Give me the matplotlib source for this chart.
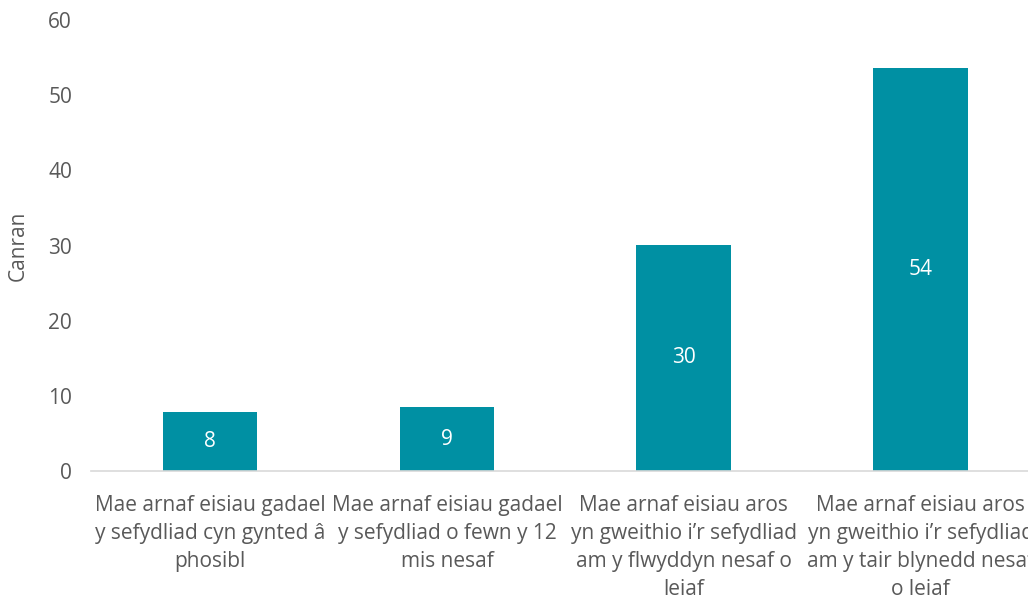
import matplotlib.pyplot as plt

plt.rcParams['font.family'] = ['Open Sans', 'DejaVu Sans']

categories = [
    "Mae arnaf eisiau gadael\ny sefydliad cyn gynted â\nphosibl",
    "Mae arnaf eisiau gadael\ny sefydliad o fewn y 12\nmis nesaf",
    "Mae arnaf eisiau aros\nyn gweithio i’r sefydliad\nam y flwyddyn nesaf o\nleiaf",
    "Mae arnaf eisiau aros\nyn gweithio i’r sefydliad\nam y tair blynedd nesaf\no leiaf",
]
values = [7.8, 8.5, 30.1, 53.6]
value_labels = ["8", "9", "30", "54"]
yticks = [0, 10, 20, 30, 40, 50, 60]

bar_color = '#0090A3'
text_color = '#595959'
fs = 15

fig = plt.figure(figsize=(10.28, 6.01), dpi=100)
ax = fig.add_axes([0.089, 0.2163, 0.922, 0.7504])

x = range(len(categories))
bars = ax.bar(x, values, width=0.40, color=bar_color)

for b, lab in zip(bars, value_labels):
    ax.text(b.get_x() + b.get_width() / 2, b.get_height() / 2, lab,
            ha='center', va='center', color='white', fontsize=fs)

ax.set_xlim(-0.5, len(categories) - 0.5)
ax.set_ylim(0, 60)
ax.set_yticks(yticks)
ax.set_xticks(list(x))
ax.set_xticklabels(categories, fontsize=fs, color=text_color, linespacing=1.45)
ax.tick_params(axis='y', labelsize=fs, labelcolor=text_color, length=0, pad=14)
ax.tick_params(axis='x', length=0, pad=17)

for s in ['top', 'right', 'left']:
    ax.spines[s].set_visible(False)
ax.spines['bottom'].set_color('#D9D9D9')
ax.spines['bottom'].set_linewidth(1.2)

ax.set_ylabel("Canran", fontsize=fs, color=text_color, labelpad=14)

fig.savefig('out.png', dpi=100)
